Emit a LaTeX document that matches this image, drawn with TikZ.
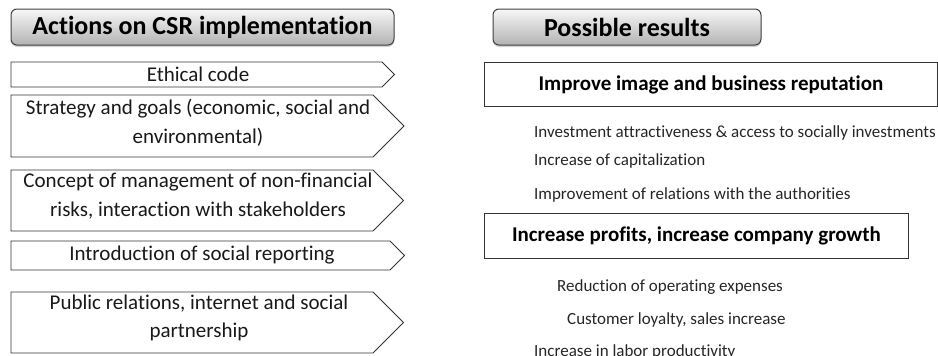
\documentclass[tikz,border=0pt]{standalone}
\usepackage{fontspec}
\setmainfont{Carlito}[Ligatures=NoCommon]
\usetikzlibrary{shadows}
\usetikzlibrary{shadings}

\begin{document}
\begin{tikzpicture}[x=1pt,y=-1pt,
	head/.style={draw=black!75,line width=1pt,rounded corners=6pt,top color=black!3,bottom color=black!30,drop shadow={opacity=0.35,shadow xshift=0pt,shadow yshift=-2pt},font=\fontsize{26}{30}\selectfont\bfseries,inner sep=0pt},
	act/.style={draw=black!80,line width=0.9pt},
	acttext/.style={align=center,font=\fontsize{21}{28.5}\selectfont,text=black!90},
	res/.style={draw=black!80,line width=1pt,font=\fontsize{21}{24}\selectfont\bfseries,inner sep=0pt},
	item/.style={anchor=west,font=\fontsize{17}{20}\selectfont,text=black!85,inner sep=0pt}]
	\clip (0,0) rectangle (938,356);

	% headings
	\draw (202.5,27) node (acth) [head,minimum width=383pt,minimum height=36pt] {Actions on CSR implementation};
	\draw (627,27) node (resh) [head,minimum width=268pt,minimum height=36pt] {Possible results};

	% action arrows: top/bottom/body end
	\foreach \t/\b/\r in {62/87/382, 95/157/373, 170/231/373, 241/270/390, 292/353/373}
		\draw[act] (11,\t) -- (\r,\t) -- ({\r+(\b-\t)/2},{(\t+\b)/2}) -- (\r,\b) -- (11,\b) -- cycle;

	\draw (198,74.5) node (ethic) [acttext] {Ethical code};
	\draw (198,123) node (goals) [acttext] {Strategy and goals (economic, social and\\environmental)};
	\draw (198,196) node (risks) [acttext] {Concept of management of non-financial\\risks, interaction with stakeholders};
	\draw (202,255.5) node (report) [acttext] {Introduction of social reporting};
	\draw (199,318) node (pr) [acttext] {Public relations, internet and social\\partnership};

	% results
	\draw (484,62) node (image) [res,anchor=north west,minimum width=453pt,minimum height=44pt] {Improve image and business reputation};
	\draw (484,213) node (profit) [res,anchor=north west,minimum width=424pt,minimum height=45pt] {Increase profits, increase company growth};

	\draw (534,133) node (invest) [item] {Investment attractiveness \& access to socially investments};
	\draw (534,161) node (capit) [item] {Increase of capitalization};
	\draw (534,195) node (auth) [item] {Improvement of relations with the authorities};
	\draw (557,287) node (costs) [item] {Reduction of operating expenses};
	\draw (567,320) node (loyal) [item] {Customer loyalty, sales increase};
	\draw (534,352) node (labor) [item] {Increase in labor productivity};
\end{tikzpicture}
\end{document}
